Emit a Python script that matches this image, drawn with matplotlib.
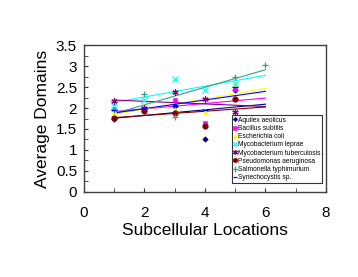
import numpy as np
import matplotlib
matplotlib.use("Agg")
import matplotlib.pyplot as plt
from matplotlib.ticker import MultipleLocator

plt.rcParams['font.family'] = ['Liberation Sans', 'DejaVu Sans']

species = ["Aquilex aeolicus", "Bacillus subtilis", "Escherichia coli",
           "Mycobacterium leprae", "Mycobacterium tuberculosis",
           "Pseudomonas aeruginosa", "Salmonella typhimurium", "Synechocystis sp."]

x_aquifex = [1, 2, 3, 4, 5]
y_aquifex = [1.73, 1.98, 2.05, 1.27, 2.42]
x_bacillus = [1, 2, 3, 4, 5]
y_bacillus = [1.98, 1.95, 2.19, 1.65, 2.45]
x_ecoli = [1, 2, 3, 4, 5]
y_ecoli = [1.92, 2.05, 1.98, 1.94, 2.59]
x_leprae = [1, 2, 3, 4, 5]
y_leprae = [2.05, 2.20, 2.70, 2.43, 2.58]
x_tuber = [1, 2, 3, 4, 5]
y_tuber = [2.16, 2.00, 2.37, 2.21, 1.90]
x_pseudo = [1, 2, 3, 4, 5]
y_pseudo = [1.77, 1.94, 1.87, 1.57, 2.21]
x_salmo = [1, 2, 3, 5, 6]
y_salmo = [1.95, 2.33, 1.79, 2.75, 3.02]
x_synech = [1, 2, 3, 4, 5]
y_synech = [1.95, 2.00, 2.05, 1.95, 2.49]

xs = [x_aquifex, x_bacillus, x_ecoli, x_leprae, x_tuber, x_pseudo, x_salmo, x_synech]
ys = [y_aquifex, y_bacillus, y_ecoli, y_leprae, y_tuber, y_pseudo, y_salmo, y_synech]
colors = ["#000080", "#FF00FF", "#FFFF00", "#00FFFF", "#800080", "#800000", "#33A080", "#0000FF"]
markers = ["D", "s", "^", "x", (6, 2, 0), "o", "+", "_"]
msizes = [2.8, 3.2, 3.6, 4, 4.5, 4, 5, 4]

fig = plt.figure(figsize=(3.58, 2.77), dpi=100)
ax = fig.add_axes([0.2346, 0.3069, 0.676, 0.5306])

for xv, yv, c, m, ms, name in zip(xs, ys, colors, markers, msizes, species):
    xv = np.array(xv, float); yv = np.array(yv, float)
    k, b = np.polyfit(xv, yv, 1)
    xl = np.array([1, 6])
    ax.plot(xl, k * xl + b, color=c, lw=0.8, zorder=2)
    mew = 0.9 if m in ("x", "+", "_") or isinstance(m, tuple) else 0.4
    ax.plot(xv, yv, linestyle="none", marker=m, color=c, markersize=ms,
            markeredgewidth=mew, label=name, zorder=3)

ax.set_xlim(0, 8)
ax.set_ylim(0, 3.5)
ax.xaxis.set_major_locator(MultipleLocator(2))
ax.xaxis.set_minor_locator(MultipleLocator(1))
ax.yaxis.set_major_locator(MultipleLocator(0.5))
ax.yaxis.set_minor_locator(MultipleLocator(0.25))
ax.yaxis.set_major_formatter(matplotlib.ticker.FuncFormatter(lambda v, p: f"{v:g}"))
ax.xaxis.set_major_formatter(matplotlib.ticker.FuncFormatter(lambda v, p: f"{v:g}"))
ax.tick_params(axis="both", which="both", direction="in", labelsize=11, colors="#333333",
               labelcolor="black")
ax.tick_params(axis="both", which="major", length=3)
ax.tick_params(axis="both", which="minor", length=3)
ax.tick_params(axis="x", pad=10)
ax.tick_params(axis="y", pad=5)
for s in ax.spines.values():
    s.set_color("#404040")
    s.set_linewidth(1.0)

ax.set_xlabel("Subcellular Locations", fontsize=12.5, labelpad=2)
ax.set_ylabel("Average Domains", fontsize=12.5, labelpad=4)

leg = ax.legend(loc="lower right", bbox_to_anchor=(0.985, 0.06), fontsize=4.8,
                frameon=True, fancybox=False, edgecolor="black", handlelength=0.5,
                handletextpad=0.15, borderpad=0.3, labelspacing=0.18, borderaxespad=0,
                markerscale=0.8)
leg.get_frame().set_linewidth(0.8)

fig.savefig("out.png", dpi=100)
